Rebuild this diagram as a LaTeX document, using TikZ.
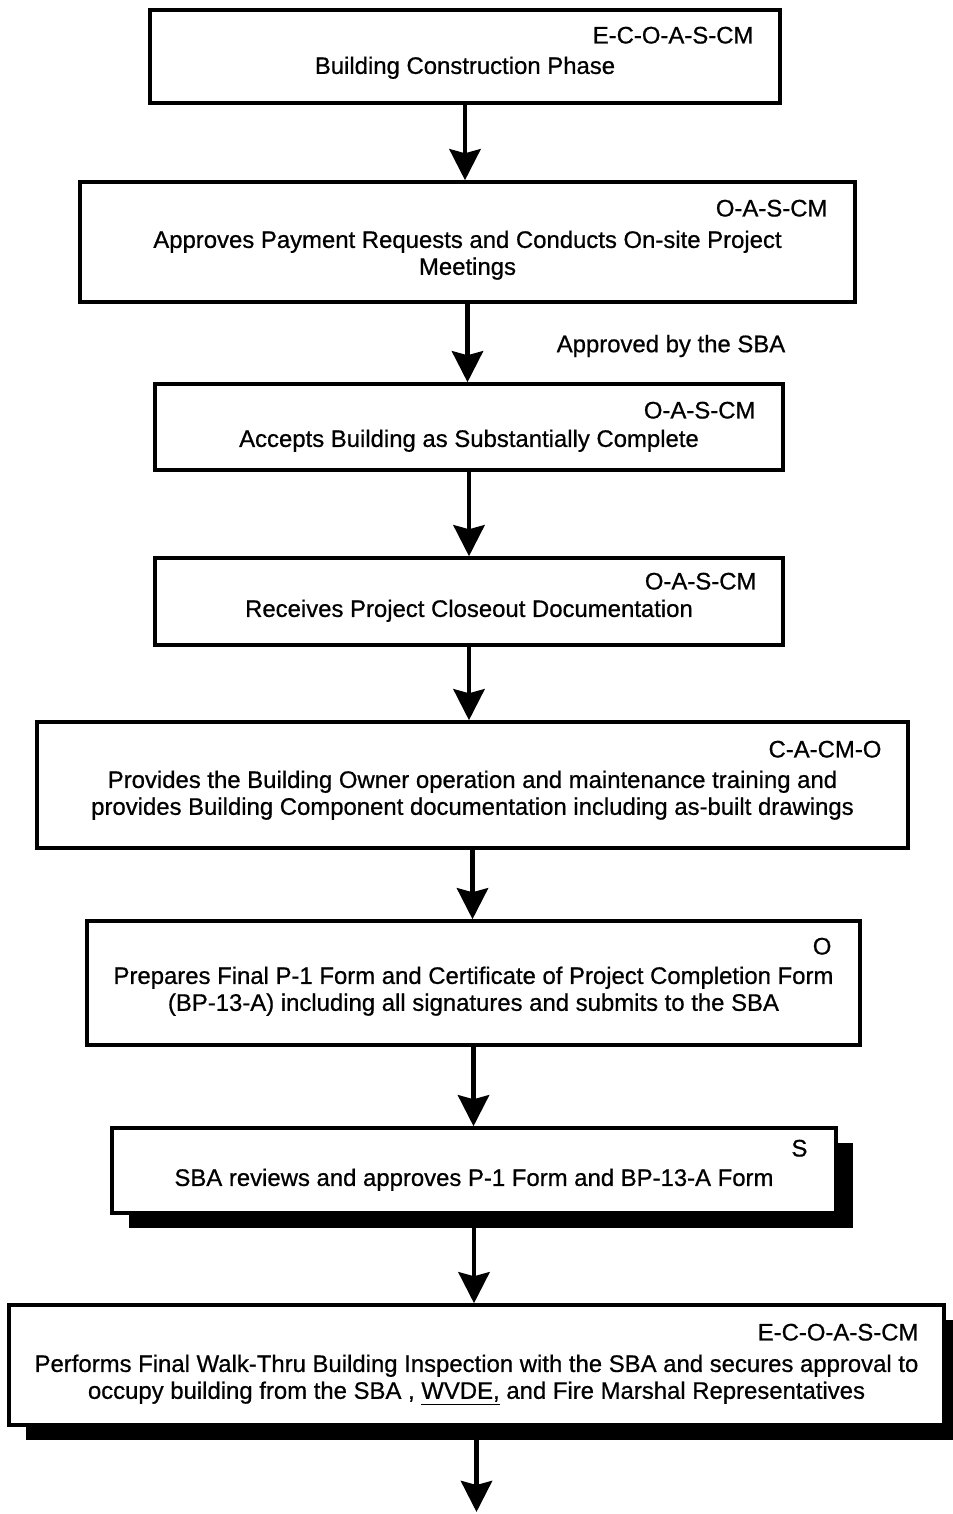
\documentclass[tikz,border=0pt]{standalone}
\usepackage{fontspec}
\setmainfont[FakeBold=0.7]{Liberation Sans}
\usepackage{tikz}
\usetikzlibrary{calc}
\usetikzlibrary{arrows.meta}
\usetikzlibrary{positioning}
\usetikzlibrary{shadows}

\begin{document}
\begin{tikzpicture}[scale=1]

    \tikzstyle{stage box}=[draw,line width=2pt,fill=white,inner sep=0pt]
    \tikzstyle{shadowed}=[drop shadow={shadow xshift=0.34cm,shadow yshift=-0.3cm,fill=black,opacity=1}]
    \tikzstyle{stage text}=[align=center,inner sep=0pt,font=\fontsize{13.6}{15.3}\selectfont]
    \tikzstyle{party tag}=[inner sep=0pt,font=\fontsize{13.6}{15.3}\selectfont]
    \tikzstyle{flow}=[-{Stealth[length=0.62cm,width=0.62cm,inset=0.08cm]},line width=2.8pt]
    \useasboundingbox (0,0) rectangle (19.06,-30.28);

    % Construction phase
    \node[style=stage box,minimum width=12.6cm,minimum height=1.86cm] (b1) at (9.3,-1.13) {};
    \node[style=party tag,left=0.56cm of b1.north east,yshift=-0.54cm] (t1) {E-C-O-A-S-CM};
    \node[style=stage text,below=0.96cm of b1.north] (s1) {Building Construction Phase};

    % Payment requests
    \node[style=stage box,minimum width=15.5cm,minimum height=2.4cm] (b2) at (9.35,-4.84) {};
    \node[style=party tag,left=0.58cm of b2.north east,yshift=-0.56cm] (t2) {O-A-S-CM};
    \node[style=stage text,below=1.0cm of b2.north] (s2) {Approves Payment Requests and Conducts On-site Project\\Meetings};

    % Substantial completion
    \node[style=stage box,minimum width=12.56cm,minimum height=1.72cm] (b3) at (9.38,-8.54) {};
    \node[style=party tag,left=0.58cm of b3.north east,yshift=-0.56cm] (t3) {O-A-S-CM};
    \node[style=stage text,below=0.94cm of b3.north] (s3) {Accepts Building as Substantially Complete};

    % Closeout documents
    \node[style=stage box,minimum width=12.56cm,minimum height=1.74cm] (b4) at (9.38,-12.03) {};
    \node[style=party tag,left=0.56cm of b4.north east,yshift=-0.5cm] (t4) {O-A-S-CM};
    \node[style=stage text,below=0.86cm of b4.north] (s4) {Receives Project Closeout Documentation};

    % Training
    \node[style=stage box,minimum width=17.42cm,minimum height=2.52cm] (b5) at (9.45,-15.7) {};
    \node[style=party tag,left=0.56cm of b5.north east,yshift=-0.58cm] (t5) {C-A-CM-O};
    \node[style=stage text,below=1.0cm of b5.north] (s5) {Provides the Building Owner operation and maintenance training and\\provides Building Component documentation including as-built drawings};

    % P-1 form
    \node[style=stage box,minimum width=15.46cm,minimum height=2.48cm] (b6) at (9.47,-19.66) {};
    \node[style=party tag,left=0.6cm of b6.north east,yshift=-0.54cm] (t6) {O};
    \node[style=stage text,below=0.94cm of b6.north] (s6) {Prepares Final P-1 Form and Certificate of Project Completion Form\\(BP-13-A) including all signatures and submits to the SBA};

    % SBA review
    \node[style=stage box,style=shadowed,minimum width=14.48cm,minimum height=1.7cm] (b7) at (9.48,-23.41) {};
    \node[style=party tag,left=0.6cm of b7.north east,yshift=-0.44cm] (t7) {S};
    \node[style=stage text,below=0.84cm of b7.north] (s7) {SBA reviews and approves P-1 Form and BP-13-A Form};

    % Walk-thru
    \node[style=stage box,style=shadowed,minimum width=18.7cm,minimum height=2.4cm] (b8) at (9.53,-27.3) {};
    \node[style=party tag,left=0.54cm of b8.north east,yshift=-0.58cm] (t8) {E-C-O-A-S-CM};
    \node[style=stage text,below=1.02cm of b8.north] (s8) {Performs Final Walk-Thru Building Inspection with the SBA and secures approval to\\occupy building from the SBA , \underline{WVDE,} and Fire Marshal Representatives};

    % Arrows
    \draw[style=flow] (b1.south) -- (b1.south |- b2.north);
    \draw[style=flow] (b2.south) -- (b2.south |- b3.north);
    \draw[style=flow] (b3.south) -- (b3.south |- b4.north);
    \draw[style=flow] (b4.south) -- (b4.south |- b5.north);
    \draw[style=flow] (b5.south) -- (b5.south |- b6.north);
    \draw[style=flow] (b6.south) -- (b6.south |- b7.north);
    \draw[style=flow] (b7.south) -- (b7.south |- b8.north);
    \coordinate (next) at (9.6,-30.24);
    \draw[style=flow] (b8.south) -- (b8.south |- next);

    \node[style=party tag] (appr) at (13.42,-6.92) {Approved by the SBA};

\end{tikzpicture}
\end{document}
